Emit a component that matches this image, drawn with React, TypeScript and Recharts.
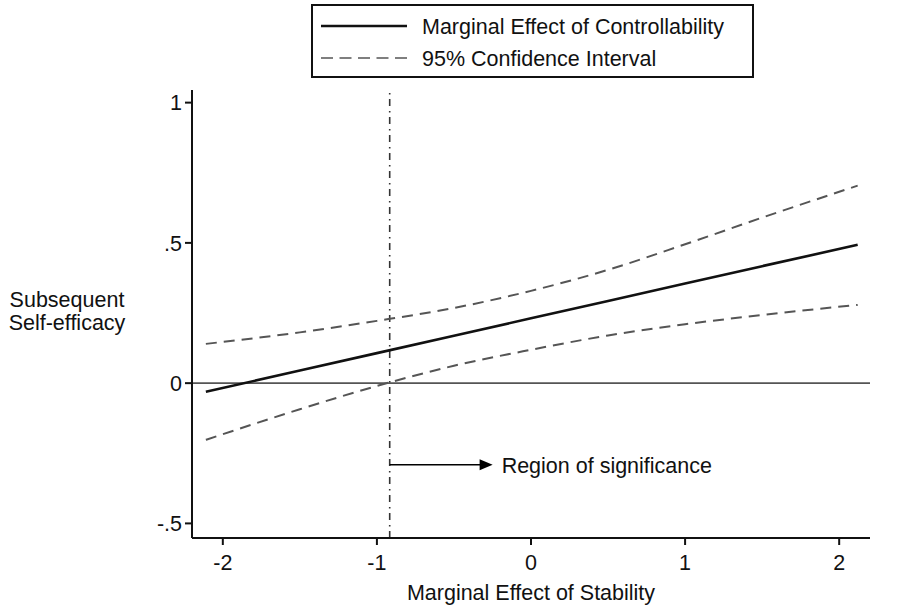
import React from "react";
import { ComposedChart, Line, XAxis, YAxis, ReferenceLine } from "recharts";

const stability = [-2.11, -1.5, -1, -0.5, 0, 0.5, 1, 1.5, 2.12];
const marginalEffect = [-0.031, 0.045, 0.107, 0.169, 0.231, 0.293, 0.355, 0.417, 0.493];
const upperCI = [0.14, 0.181, 0.222, 0.268, 0.329, 0.404, 0.495, 0.59, 0.704];
const lowerCI = [-0.202, -0.093, -0.01, 0.062, 0.119, 0.17, 0.21, 0.243, 0.279];

const xTicks = [-2, -1, 0, 1, 2];
const yTicks = [-0.5, 0, 0.5, 1];
const yTickLabels: Record<string, string> = { "-0.5": "-.5", "0": "0", "0.5": ".5", "1": "1" };
const significanceX = -0.917;
const arrowY = -0.291;
const arrowEndX = -0.249;

const data = stability.map((x, i) => ({
  x,
  effect: marginalEffect[i],
  upper: upperCI[i],
  lower: lowerCI[i],
}));

const FONT = "'Liberation Sans', Arial, Helvetica, sans-serif";
const FS = 21.5;

const ArrowShape = (p: any) => {
  const { x1, y1, x2, y2 } = p;
  return (
    <g>
      <line x1={x1} y1={y1} x2={x2 - 10} y2={y2} stroke="#000" strokeWidth={1.6} />
      <polygon points={`${x2},${y2} ${x2 - 13},${y2 - 5.5} ${x2 - 13},${y2 + 5.5}`} fill="#000" />
      <text x={x2 + 9} y={y2} dy="0.36em" fontFamily={FONT} fontSize={FS} fill="#111">
        Region of significance
      </text>
    </g>
  );
};

const YLabel = () => {
  const cx = 67;
  return (
    <g>
      <text x={cx} y={307} textAnchor="middle" fontFamily={FONT} fontSize={FS} fill="#111">
        Subsequent
      </text>
      <text x={cx} y={330} textAnchor="middle" fontFamily={FONT} fontSize={FS} fill="#111">
        Self-efficacy
      </text>
    </g>
  );
};

export default function App() {
  return (
    <div style={{ position: "absolute", left: 0, top: 0, width: 898, height: 612, background: "#fff" }}>
      <ComposedChart
        width={898}
        height={612}
        data={data}
        margin={{ top: 90, right: 28, bottom: 0, left: 0 }}
      >
        <XAxis
          type="number"
          dataKey="x"
          domain={[-2.2, 2.2]}
          ticks={xTicks}
          height={74}
          tickSize={7}
          tickMargin={10}
          axisLine={{ stroke: "#111", strokeWidth: 2 }}
          tickLine={{ stroke: "#111", strokeWidth: 2 }}
          tick={{ fill: "#111", fontFamily: FONT, fontSize: FS }}
          label={{
            value: "Marginal Effect of Stability",
            position: "insideBottom",
            offset: 12,
            fill: "#111",
            fontFamily: FONT,
            fontSize: FS,
          }}
        />
        <YAxis
          type="number"
          domain={[-0.552, 1.045]}
          ticks={yTicks}
          width={192}
          tickSize={7}
          tickMargin={3}
          allowDataOverflow
          axisLine={{ stroke: "#111", strokeWidth: 2 }}
          tickLine={{ stroke: "#111", strokeWidth: 2 }}
          tick={{ fill: "#111", fontFamily: FONT, fontSize: FS }}
          tickFormatter={(v: number) => yTickLabels[String(v)] ?? String(v)}
          label={{ content: YLabel }}
        />
        <ReferenceLine y={0} stroke="#555" strokeWidth={1.6} />
        <ReferenceLine
          x={significanceX}
          stroke="#333"
          strokeWidth={1.6}
          strokeDasharray="7 4.5 1.5 5"
        />
        <ReferenceLine
          segment={[
            { x: significanceX, y: arrowY },
            { x: arrowEndX, y: arrowY },
          ]}
          shape={ArrowShape}
          ifOverflow="visible"
        />
        <Line
          type="monotone"
          dataKey="upper"
          stroke="#555"
          strokeWidth={2}
          strokeDasharray="11 7"
          dot={false}
          activeDot={false}
          isAnimationActive={false}
        />
        <Line
          type="monotone"
          dataKey="lower"
          stroke="#555"
          strokeWidth={2}
          strokeDasharray="11 7"
          dot={false}
          activeDot={false}
          isAnimationActive={false}
        />
        <Line
          type="linear"
          dataKey="effect"
          stroke="#111"
          strokeWidth={2.6}
          dot={false}
          activeDot={false}
          isAnimationActive={false}
        />
      </ComposedChart>
      <svg
        width={898}
        height={90}
        style={{ position: "absolute", left: 0, top: 0, pointerEvents: "none" }}
      >
        <rect x={312} y={5} width={441} height={72} fill="#fff" stroke="#111" strokeWidth={2} />
        <line x1={321} y1={26} x2={407} y2={26} stroke="#111" strokeWidth={2.4} />
        <line x1={321} y1={58} x2={407} y2={58} stroke="#555" strokeWidth={1.6} strokeDasharray="12 6.5" />
        <text x={422} y={26} dy="0.36em" fontFamily={FONT} fontSize={FS} fill="#111">
          Marginal Effect of Controllability
        </text>
        <text x={422} y={58} dy="0.36em" fontFamily={FONT} fontSize={FS} fill="#111">
          95% Confidence Interval
        </text>
      </svg>
    </div>
  );
}
